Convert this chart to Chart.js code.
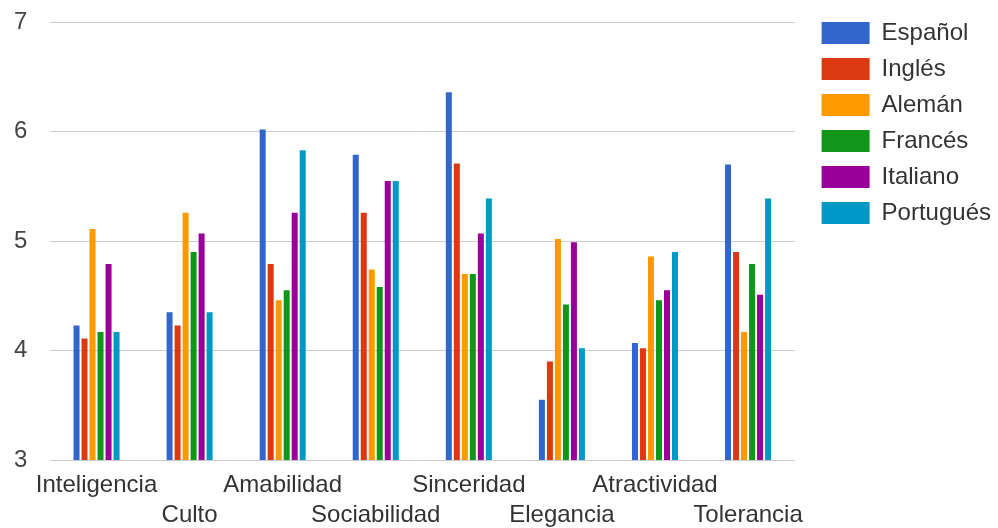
<!DOCTYPE html>
<html>
<head>
<meta charset="utf-8">
<script src="https://cdn.jsdelivr.net/npm/chart.js@4/dist/chart.umd.min.js"></script>
<style>
  html, body { margin: 0; padding: 0; background: #ffffff; }
  #wrap { position: relative; width: 998px; height: 528px; }
</style>
</head>
<body>
<div id="wrap"><canvas id="chart"></canvas></div>
<script>
// Trait categories (odd ones sit on a second label row)
const categories = ['Inteligencia', 'Culto', 'Amabilidad', 'Sociabilidad', 'Sinceridad', 'Elegancia', 'Atractividad', 'Tolerancia'];

// Mean rating per language, one value per category
const espanol   = [4.23, 4.35, 6.02, 5.79, 6.36, 3.55, 4.07, 5.70];
const ingles    = [4.11, 4.23, 4.79, 5.26, 5.71, 3.90, 4.02, 4.90];
const aleman    = [5.11, 5.26, 4.46, 4.74, 4.70, 5.02, 4.86, 4.17];
const frances   = [4.17, 4.90, 4.55, 4.58, 4.70, 4.42, 4.46, 4.79];
const italiano  = [4.79, 5.07, 5.26, 5.55, 5.07, 4.99, 4.55, 4.51];
const portugues = [4.17, 4.35, 5.83, 5.55, 5.39, 4.02, 4.90, 5.39];

const seriesNames = ['Español', 'Inglés', 'Alemán', 'Francés', 'Italiano', 'Portugués'];
const seriesValues = [espanol, ingles, aleman, frances, italiano, portugues];
const seriesColors = ['#3366cc', '#dc3912', '#ff9900', '#109618', '#990099', '#0099c6'];

const yTicks = [3, 4, 5, 6, 7];

const FONT = '"Liberation Sans", Arial, sans-serif';

// Alternate labels drop to a second row
const staggeredLabels = categories.map((c, i) => (i % 2 === 1 ? ['', c] : c));

const datasets = seriesNames.map((name, i) => ({
  label: name,
  data: seriesValues[i],
  backgroundColor: seriesColors[i],
  borderWidth: 0,
  categoryPercentage: 0.516,
  barPercentage: 0.75,
  xAxisID: 'x',
  yAxisID: 'y'
}));

new Chart(document.getElementById('chart'), {
  type: 'bar',
  data: { labels: staggeredLabels, datasets },
  options: {
    responsive: true,
    maintainAspectRatio: false,
    animation: false,
    layout: { padding: { top: 9, right: -3, bottom: 0, left: 14 } },
    plugins: {
      tooltip: { enabled: false },
      legend: {
        position: 'right',
        align: 'start',
        maxWidth: 240,
        labels: {
          boxWidth: 48,
          boxHeight: 22,
          padding: 12,
          color: '#333333',
          font: { family: FONT, size: 24 }
        }
      }
    },
    scales: {
      x: {
        position: 'bottom',
        grid: { display: false, drawTicks: false },
        border: { display: false },
        ticks: {
          autoSkip: false,
          maxRotation: 0,
          minRotation: 0,
          padding: 10,
          color: '#333333',
          font: { family: FONT, size: 24, lineHeight: '30px' }
        },
        afterFit: s => { s.height = 68; }
      },
      y: {
        position: 'left',
        min: yTicks[0],
        max: yTicks[yTicks.length - 1],
        afterBuildTicks: s => { s.ticks = yTicks.map(v => ({ value: v })); },
        grid: { color: '#cccccc', lineWidth: 1, drawTicks: false },
        border: { display: false },
        ticks: {
          padding: 9,
          crossAlign: 'far',
          color: '#444444',
          font: { family: FONT, size: 24, lineHeight: 1.1 }
        },
        afterFit: s => { s.width = 36; }
      },
      right: {
        type: 'linear',
        position: 'right',
        display: true,
        grid: { display: false, drawTicks: false },
        border: { display: false },
        ticks: { display: false },
        afterFit: s => { s.width = 15; }
      }
    }
  }
});
</script>
</body>
</html>
